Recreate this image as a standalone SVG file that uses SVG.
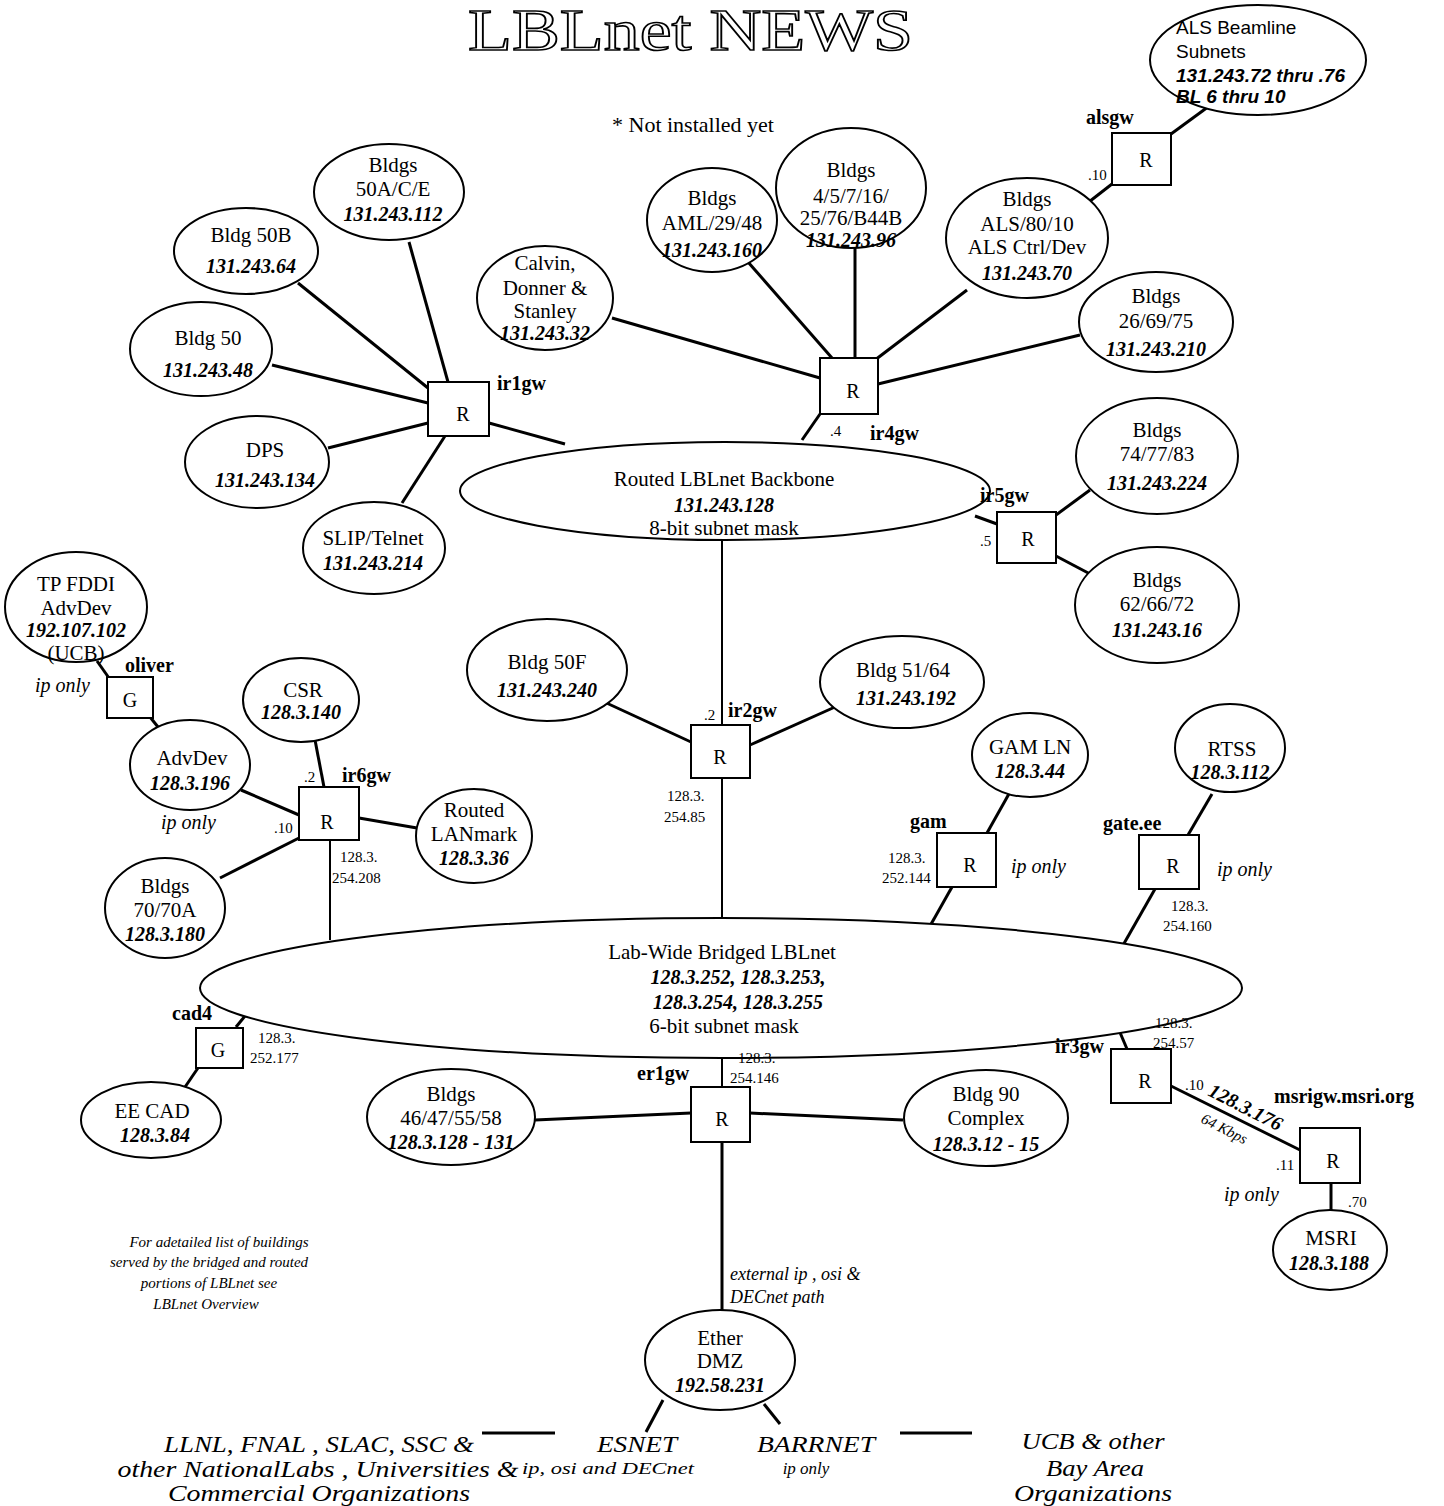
<svg xmlns="http://www.w3.org/2000/svg" width="1444" height="1506" viewBox="0 0 1444 1506">
<style>
text{font-family:"Liberation Serif",serif;fill:#000}
.n{font-size:21px;text-anchor:middle}
.ip{font-size:20px;text-anchor:middle;font-weight:bold;font-style:italic}
.lb{font-size:20px;font-weight:bold}
.sm{font-size:15px}
.it{font-style:italic}
.r{font-size:20px;text-anchor:middle}
.sans{font-family:"Liberation Sans",sans-serif;font-size:19px}
ellipse,rect{fill:#fff;stroke:#000;stroke-width:2}
#connectors line{stroke:#000;stroke-width:3}
.ft{font-size:24px;font-style:italic;text-anchor:middle}
</style>
<rect x="0" y="0" width="1444" height="1506" style="stroke:none"/>
<text x="468" y="50" font-size="60" textLength="445" lengthAdjust="spacingAndGlyphs" style="fill:#fff;stroke:#000;stroke-width:1.6">LBLnet  NEWS</text>
<text x="612" y="132" font-size="22">* Not installed yet</text>

<g id="connectors">
<line x1="1212" y1="104" x2="1171" y2="134"/>
<line x1="1112" y1="184" x2="1085" y2="205"/>
<line x1="409" y1="242" x2="448" y2="382"/>
<line x1="298" y1="283" x2="428" y2="388"/>
<line x1="272" y1="365" x2="428" y2="403"/>
<line x1="328" y1="448" x2="428" y2="423"/>
<line x1="402" y1="503" x2="445" y2="436"/>
<line x1="489" y1="423" x2="565" y2="444"/>
<line x1="612" y1="318" x2="820" y2="378"/>
<line x1="748" y1="262" x2="832" y2="358"/>
<line x1="855" y1="247" x2="855" y2="358"/>
<line x1="967" y1="290" x2="875" y2="360"/>
<line x1="1080" y1="335" x2="878" y2="384"/>
<line x1="820" y1="414" x2="802" y2="440"/>
<line x1="975" y1="516" x2="997" y2="524"/>
<line x1="1090" y1="490" x2="1056" y2="515"/>
<line x1="1056" y1="556" x2="1092" y2="575"/>
<line x1="722" y1="540" x2="722" y2="725" style="stroke-width:2"/>
<line x1="600" y1="700" x2="691" y2="742"/>
<line x1="835" y1="707" x2="750" y2="745"/>
<line x1="722" y1="778" x2="722" y2="919" style="stroke-width:2"/>
<line x1="97" y1="661" x2="109" y2="678"/>
<line x1="150" y1="717" x2="158" y2="727"/>
<line x1="241" y1="790" x2="299" y2="815"/>
<line x1="315" y1="740" x2="324" y2="787"/>
<line x1="359" y1="818" x2="417" y2="828"/>
<line x1="299" y1="838" x2="220" y2="878"/>
<line x1="330" y1="840" x2="330" y2="940" style="stroke-width:2"/>
<line x1="1010" y1="792" x2="987" y2="833"/>
<line x1="952" y1="887" x2="930" y2="926"/>
<line x1="1212" y1="794" x2="1188" y2="835"/>
<line x1="1155" y1="889" x2="1122" y2="947"/>
<line x1="236" y1="1027" x2="254" y2="1005"/>
<line x1="198" y1="1068" x2="185" y2="1087"/>
<line x1="722" y1="1058" x2="722" y2="1087" style="stroke-width:2"/>
<line x1="535" y1="1120" x2="691" y2="1113"/>
<line x1="750" y1="1113" x2="903" y2="1120"/>
<line x1="722" y1="1142" x2="722" y2="1312"/>
<line x1="1127" y1="1049" x2="1113" y2="1016"/>
<line x1="1171" y1="1086" x2="1300" y2="1150"/>
<line x1="1331" y1="1183" x2="1331" y2="1212"/>
<line x1="663" y1="1400" x2="646" y2="1432"/>
<line x1="764" y1="1404" x2="780" y2="1424"/>
<line x1="482" y1="1433" x2="555" y2="1433"/>
<line x1="900" y1="1433" x2="972" y2="1433"/>
</g>

<g id="als-beamline">
<ellipse cx="1258" cy="60" rx="108" ry="55"/>
<text class="sans" x="1176" y="34">ALS Beamline</text>
<text class="sans" x="1176" y="58">Subnets</text>
<text class="sans" x="1176" y="82" font-weight="bold" font-style="italic">131.243.72 thru .76</text>
<text class="sans" x="1176" y="103" font-weight="bold" font-style="italic">BL 6 thru 10</text>
</g>
<g id="alsgw">
<rect x="1112" y="133" width="59" height="52"/>
<text class="r" x="1146" y="167">R</text>
<text class="lb" x="1086" y="124">alsgw</text>
<text class="sm" x="1088" y="180">.10</text>
</g>

<g id="bldgs-50ace"><ellipse cx="389" cy="192" rx="75" ry="48"/>
<text class="n" x="393" y="172">Bldgs</text><text class="n" x="393" y="196">50A/C/E</text><text class="ip" x="393" y="221">131.243.112</text></g>
<g id="bldg-50b"><ellipse cx="246" cy="251" rx="72" ry="43"/>
<text class="n" x="251" y="242">Bldg 50B</text><text class="ip" x="251" y="273">131.243.64</text></g>
<g id="bldg-50"><ellipse cx="201" cy="349" rx="71" ry="47"/>
<text class="n" x="208" y="345">Bldg 50</text><text class="ip" x="208" y="377">131.243.48</text></g>
<g id="dps"><ellipse cx="257" cy="462" rx="72" ry="46"/>
<text class="n" x="265" y="457">DPS</text><text class="ip" x="265" y="487">131.243.134</text></g>
<g id="slip"><ellipse cx="374" cy="548" rx="71" ry="46"/>
<text class="n" x="373" y="545">SLIP/Telnet</text><text class="ip" x="373" y="570">131.243.214</text></g>
<g id="ir1gw"><rect x="428" y="382" width="61" height="54"/>
<text class="r" x="463" y="421">R</text><text class="lb" x="497" y="390">ir1gw</text></g>

<g id="calvin"><ellipse cx="545" cy="298" rx="68" ry="52"/>
<text class="n" x="545" y="270">Calvin,</text><text class="n" x="545" y="295">Donner &amp;</text><text class="n" x="545" y="318">Stanley</text><text class="ip" x="545" y="340">131.243.32</text></g>
<g id="bldgs-aml"><ellipse cx="712" cy="220" rx="65" ry="52"/>
<text class="n" x="712" y="205">Bldgs</text><text class="n" x="712" y="230">AML/29/48</text><text class="ip" x="712" y="257">131.243.160</text></g>
<g id="bldgs-4-5-7"><ellipse cx="851" cy="188" rx="75" ry="60"/>
<text class="n" x="851" y="177">Bldgs</text><text class="n" x="851" y="203">4/5/7/16/</text><text class="n" x="851" y="225">25/76/B44B</text><text class="ip" x="851" y="247">131.243.96</text></g>
<g id="bldgs-als"><ellipse cx="1027" cy="238" rx="81" ry="60"/>
<text class="n" x="1027" y="206">Bldgs</text><text class="n" x="1027" y="231">ALS/80/10</text><text class="n" x="1027" y="254">ALS Ctrl/Dev</text><text class="ip" x="1027" y="280">131.243.70</text></g>
<g id="bldgs-26"><ellipse cx="1156" cy="322" rx="77" ry="50"/>
<text class="n" x="1156" y="303">Bldgs</text><text class="n" x="1156" y="328">26/69/75</text><text class="ip" x="1156" y="356">131.243.210</text></g>
<g id="ir4gw"><rect x="820" y="358" width="58" height="56"/>
<text class="r" x="853" y="398">R</text><text class="lb" x="870" y="440">ir4gw</text><text class="sm" x="830" y="436">.4</text></g>

<g id="backbone"><ellipse cx="725" cy="491" rx="265" ry="49"/>
<text class="n" x="724" y="486">Routed LBLnet Backbone</text><text class="ip" x="724" y="512">131.243.128</text><text class="n" x="724" y="535" font-size="19">8-bit subnet mask</text></g>

<g id="ir5gw"><rect x="997" y="512" width="59" height="51"/>
<text class="r" x="1028" y="546">R</text><text class="lb" x="980" y="502">ir5gw</text><text class="sm" x="980" y="546">.5</text></g>
<g id="bldgs-74"><ellipse cx="1157" cy="456" rx="81" ry="58"/>
<text class="n" x="1157" y="437">Bldgs</text><text class="n" x="1157" y="461">74/77/83</text><text class="ip" x="1157" y="490">131.243.224</text></g>
<g id="bldgs-62"><ellipse cx="1157" cy="605" rx="82" ry="58"/>
<text class="n" x="1157" y="587">Bldgs</text><text class="n" x="1157" y="611">62/66/72</text><text class="ip" x="1157" y="637">131.243.16</text></g>

<g id="ir2gw"><rect x="691" y="725" width="59" height="53"/>
<text class="r" x="720" y="764">R</text><text class="lb" x="728" y="717">ir2gw</text><text class="sm" x="704" y="720">.2</text>
<text class="sm" x="667" y="801">128.3.</text><text class="sm" x="664" y="822">254.85</text></g>
<g id="bldg-50f"><ellipse cx="547" cy="670" rx="80" ry="51"/>
<text class="n" x="547" y="669">Bldg 50F</text><text class="ip" x="547" y="697">131.243.240</text></g>
<g id="bldg-51"><ellipse cx="902" cy="682" rx="82" ry="46"/>
<text class="n" x="903" y="677">Bldg 51/64</text><text class="ip" x="906" y="705">131.243.192</text></g>

<g id="tp-fddi"><ellipse cx="76" cy="607" rx="71" ry="55"/>
<text class="n" x="76" y="591">TP FDDI</text><text class="n" x="76" y="615">AdvDev</text><text class="ip" x="76" y="637">192.107.102</text><text class="n" x="76" y="660">(UCB)</text></g>
<g id="oliver"><rect x="107" y="677" width="46" height="41"/>
<text class="r" x="130" y="707">G</text><text class="lb" x="125" y="672">oliver</text><text class="it" x="35" y="692" font-size="20">ip only</text></g>
<g id="advdev"><ellipse cx="190" cy="765" rx="60" ry="45"/>
<text class="n" x="192" y="765">AdvDev</text><text class="ip" x="190" y="790">128.3.196</text></g>
<text class="it" x="161" y="829" font-size="20">ip only</text>
<g id="csr"><ellipse cx="301" cy="700" rx="58" ry="42"/>
<text class="n" x="303" y="697">CSR</text><text class="ip" x="301" y="719">128.3.140</text></g>
<g id="lanmark"><ellipse cx="474" cy="836" rx="58" ry="47"/>
<text class="n" x="474" y="817">Routed</text><text class="n" x="474" y="841">LANmark</text><text class="ip" x="474" y="865">128.3.36</text></g>
<g id="bldgs-70"><ellipse cx="165" cy="908" rx="60" ry="50"/>
<text class="n" x="165" y="893">Bldgs</text><text class="n" x="165" y="917">70/70A</text><text class="ip" x="165" y="941">128.3.180</text></g>
<g id="ir6gw"><rect x="299" y="787" width="60" height="53"/>
<text class="r" x="327" y="829">R</text><text class="lb" x="342" y="782">ir6gw</text><text class="sm" x="304" y="782">.2</text><text class="sm" x="274" y="833">.10</text>
<text class="sm" x="340" y="862">128.3.</text><text class="sm" x="332" y="883">254.208</text></g>

<g id="gam-ln"><ellipse cx="1030" cy="755" rx="58" ry="42"/>
<text class="n" x="1030" y="754" font-size="18">GAM LN</text><text class="ip" x="1030" y="778">128.3.44</text></g>
<g id="gam"><rect x="937" y="833" width="59" height="54"/>
<text class="r" x="970" y="872">R</text><text class="lb" x="910" y="828">gam</text><text class="it" x="1011" y="873" font-size="20">ip only</text>
<text class="sm" x="888" y="863">128.3.</text><text class="sm" x="882" y="883">252.144</text></g>
<g id="rtss"><ellipse cx="1230" cy="748" rx="55" ry="44"/>
<text class="n" x="1232" y="756">RTSS</text><text class="ip" x="1230" y="779">128.3.112</text></g>
<g id="gate-ee"><rect x="1139" y="835" width="60" height="54"/>
<text class="r" x="1173" y="873">R</text><text class="lb" x="1103" y="830">gate.ee</text><text class="it" x="1217" y="876" font-size="20">ip only</text>
<text class="sm" x="1171" y="911">128.3.</text><text class="sm" x="1163" y="931">254.160</text></g>

<g id="bridged"><ellipse cx="721" cy="988" rx="521" ry="70"/>
<text class="n" x="722" y="959">Lab-Wide Bridged LBLnet</text><text class="ip" x="738" y="984">128.3.252, 128.3.253,</text><text class="ip" x="738" y="1009">128.3.254, 128.3.255</text><text class="n" x="724" y="1033" font-size="19">6-bit subnet mask</text></g>

<g id="cad4"><rect x="196" y="1028" width="47" height="40"/>
<text class="r" x="218" y="1057">G</text><text class="lb" x="172" y="1020">cad4</text>
<text class="sm" x="258" y="1043">128.3.</text><text class="sm" x="250" y="1063">252.177</text></g>
<g id="ee-cad"><ellipse cx="151" cy="1120" rx="70" ry="38"/>
<text class="n" x="152" y="1118">EE CAD</text><text class="ip" x="155" y="1142">128.3.84</text></g>

<g id="er1gw"><rect x="691" y="1087" width="59" height="55"/>
<text class="r" x="722" y="1126">R</text><text class="lb" x="637" y="1080">er1gw</text>
<text class="sm" x="738" y="1063">128.3.</text><text class="sm" x="730" y="1083">254.146</text></g>
<g id="bldgs-46"><ellipse cx="451" cy="1117" rx="84" ry="48"/>
<text class="n" x="451" y="1101">Bldgs</text><text class="n" x="451" y="1125">46/47/55/58</text><text class="ip" x="451" y="1149">128.3.128 - 131</text></g>
<g id="bldg-90"><ellipse cx="986" cy="1118" rx="82" ry="48"/>
<text class="n" x="986" y="1101">Bldg 90</text><text class="n" x="986" y="1125">Complex</text><text class="ip" x="986" y="1151">128.3.12 - 15</text></g>

<g id="ir3gw"><rect x="1111" y="1049" width="60" height="54"/>
<text class="r" x="1145" y="1088">R</text><text class="lb" x="1055" y="1053">ir3gw</text>
<text class="sm" x="1155" y="1028">128.3.</text><text class="sm" x="1153" y="1048">254.57</text><text class="sm" x="1185" y="1090">.10</text></g>
<text class="ip" x="1207" y="1095" style="text-anchor:start" transform="rotate(27 1207 1095)">128.3.176</text>
<text class="sm it" x="1200" y="1122" transform="rotate(27 1200 1122)">64 Kbps</text>
<g id="msrigw"><rect x="1300" y="1128" width="60" height="55"/>
<text class="r" x="1333" y="1168">R</text><text class="lb" x="1274" y="1103">msrigw.msri.org</text>
<text class="sm" x="1276" y="1170">.11</text><text class="it" x="1224" y="1201" font-size="20">ip only</text><text class="sm" x="1348" y="1207">.70</text></g>
<g id="msri"><ellipse cx="1330" cy="1250" rx="57" ry="40"/>
<text class="n" x="1331" y="1245">MSRI</text><text class="ip" x="1329" y="1270">128.3.188</text></g>

<g id="note">
<text class="it" x="219" y="1247" font-size="15" text-anchor="middle">For adetailed list of  buildings</text>
<text class="it" x="209" y="1267" font-size="15" text-anchor="middle">served by the bridged and routed</text>
<text class="it" x="209" y="1288" font-size="15" text-anchor="middle">portions of LBLnet see</text>
<text class="it" x="206" y="1309" font-size="15" text-anchor="middle">LBLnet Overview</text>
</g>
<text class="it" x="730" y="1280" font-size="18">external ip , osi &amp;</text>
<text class="it" x="730" y="1303" font-size="18">DECnet path</text>

<g id="ether-dmz"><ellipse cx="720" cy="1360" rx="75" ry="50"/>
<text class="n" x="720" y="1345">Ether</text><text class="n" x="720" y="1368">DMZ</text><text class="ip" x="720" y="1392">192.58.231</text></g>

<g id="footer">
<text class="ft" x="319" y="1452" textLength="310" lengthAdjust="spacingAndGlyphs">LLNL, FNAL , SLAC, SSC &amp;</text>
<text class="ft" x="318" y="1477" textLength="401" lengthAdjust="spacingAndGlyphs">other NationalLabs , Universities &amp;</text>
<text class="ft" x="319" y="1501" textLength="302" lengthAdjust="spacingAndGlyphs">Commercial Organizations</text>
<text class="ft" x="637" y="1452" textLength="80" lengthAdjust="spacingAndGlyphs">ESNET</text>
<text class="it" x="608" y="1474" font-size="17" text-anchor="middle" textLength="172" lengthAdjust="spacingAndGlyphs">ip, osi and DECnet</text>
<text class="ft" x="816" y="1452" textLength="118" lengthAdjust="spacingAndGlyphs">BARRNET</text>
<text class="it" x="806" y="1474" font-size="17" text-anchor="middle">ip only</text>
<text class="ft" x="1093" y="1449" textLength="143" lengthAdjust="spacingAndGlyphs">UCB &amp; other</text>
<text class="ft" x="1095" y="1476" textLength="98" lengthAdjust="spacingAndGlyphs">Bay Area</text>
<text class="ft" x="1093" y="1501" textLength="158" lengthAdjust="spacingAndGlyphs">Organizations</text>
</g>
</svg>
